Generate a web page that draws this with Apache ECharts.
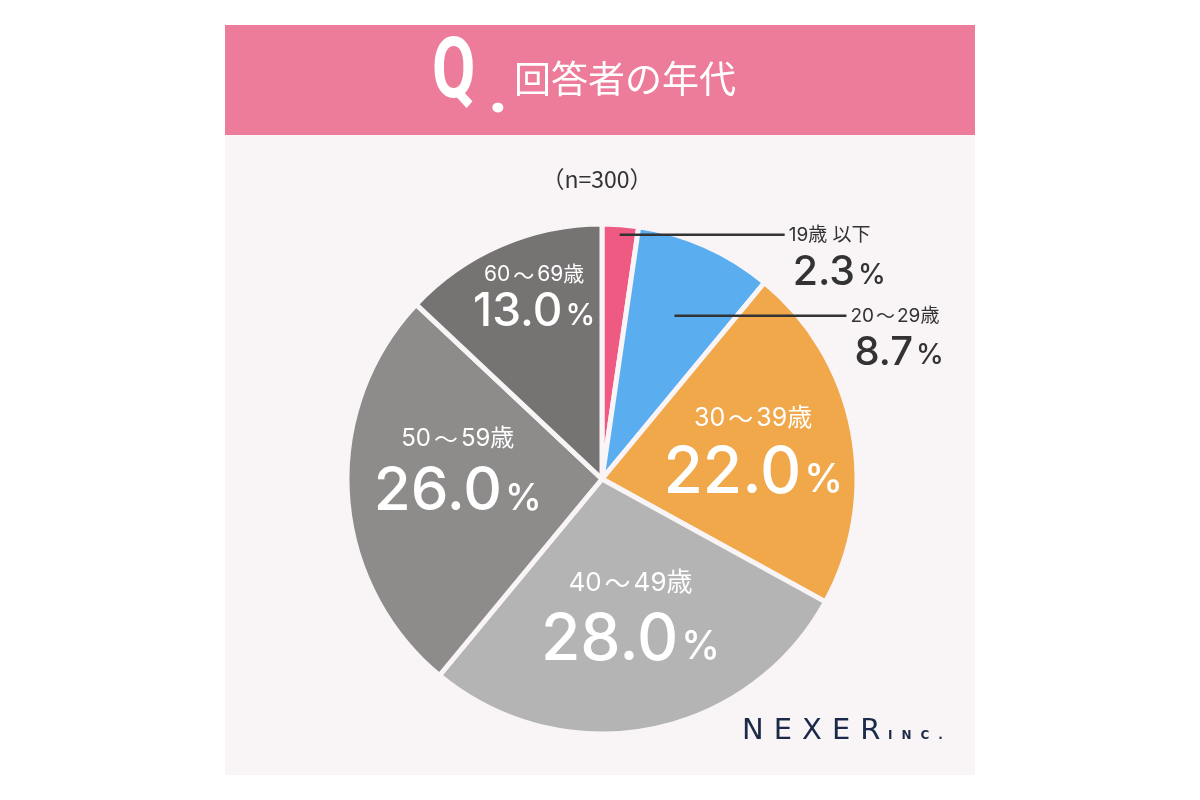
<!DOCTYPE html>
<html><head><meta charset="utf-8">
<script src="https://cdn.jsdelivr.net/npm/echarts@6/dist/echarts.min.js"></script>
<style>html,body{margin:0;padding:0;background:#fff}#c{width:1200px;height:800px}</style>
</head><body><div id="c"></div>
<script>
// ---- data ----
const categories = ['19歳 以下', '20〜29歳', '30〜39歳', '40〜49歳', '50〜59歳', '60〜69歳'];
const values = [2.3, 8.7, 22.0, 28.0, 26.0, 13.0];
const sampleNote = '（n=300）';
const titleText = '回答者の年代';

// ---- style ----
const colors = ['#ee5a82', '#5aaeef', '#f0a84b', '#b5b4b4', '#8e8b8b', '#767373'];
const CX = 602, CY = 479, R = 255;
const NUMFONT = 'Inter, "Noto Sans CJK JP", sans-serif';
const JPFONT = '"Noto Sans CJK JP", sans-serif';
// per slice label styling
const labelStyles = [
  {outside: true, n: 19, v: 41, p: 28, extra: 7, lineR: 0.96, lineLen: 165, color: '#333'},
  {outside: true, n: 19, v: 40, p: 28, extra: 7, lineR: 0.70, lineLen: 172, color: '#333'},
  {n: 25, v: 64, p: 39, extra: 11, dx: 23, dy: 0, color: '#fff'},
  {n: 26, v: 64, p: 39, extra: 13, dx: 4, dy: 13, color: '#fff'},
  {n: 24, v: 60, p: 37, extra: 11, dx: -14, dy: -14, color: '#fff'},
  {n: 21, v: 46, p: 30, extra: 3, dx: -16, dy: -61, color: '#fff'}
];

const total = values.reduce((a, b) => a + b, 0);
const midAngles = [];
{ let acc = 0; values.forEach(v => { midAngles.push((acc + v / 2) / total * Math.PI * 2); acc += v; }); }

function labelFor(s, show) {
  const vLH = Math.round(s.v * 0.95 + s.extra);
  return {
    show: show,
    position: s.outside ? 'outside' : 'inside',
    color: s.color,
    align: s.outside ? 'left' : 'center',
    rich: {
      n: {fontSize: s.n, fontFamily: NUMFONT, color: s.color, lineHeight: s.n + 6},
      t: {fontSize: s.n, fontFamily: JPFONT, color: s.color, lineHeight: s.n + 6, padding: [0, Math.round(s.n * 0.12)]},
      v: {fontSize: s.v, fontFamily: NUMFONT, fontWeight: 500, color: s.color, lineHeight: vLH, verticalAlign: 'bottom',
          padding: [0, 0, 0, s.outside ? 4 : 0]},
      p: {fontSize: s.p, fontFamily: NUMFONT, fontWeight: 500, color: s.color, lineHeight: vLH, verticalAlign: 'bottom',
          padding: [0, 0, Math.round(s.v * 0.09), 3]}
    }
  };
}

// base pie: coloured slices + inside labels
const baseData = categories.map((name, i) => ({
  name, value: values[i],
  itemStyle: {color: colors[i]},
  label: labelFor(labelStyles[i], !labelStyles[i].outside),
  labelLine: {show: false}
}));
// overlay pie (transparent): outside labels with leader lines drawn above the slices
const overlayData = categories.map((name, i) => ({
  name, value: values[i],
  itemStyle: {color: 'rgba(0,0,0,0)', borderWidth: 0},
  label: labelFor(labelStyles[i], !!labelStyles[i].outside),
  labelLine: {show: !!labelStyles[i].outside}
}));

const formatter = p => '{n|' + p.name.split('〜').join('}{t|〜}{n|') + '}\n{v|' + p.value.toFixed(1) + '}{p|%}';

function layoutFn(params) {
  const i = params.dataIndex;
  const s = labelStyles[i];
  if (s.outside) {
    const a = midAngles[i];
    const sx = CX + R * s.lineR * Math.sin(a);
    const ly = CY - R * s.lineR * Math.cos(a);
    const ex = sx + s.lineLen;
    return {
      x: ex + 4, y: ly - (s.n + 6) / 2, align: 'left', verticalAlign: 'top',
      labelLinePoints: [[sx, ly], [ex, ly], [ex, ly]]
    };
  }
  return {dx: s.dx, dy: s.dy};
}

const chart = echarts.init(document.getElementById('c'), null, {renderer: 'canvas'});
chart.setOption({
  backgroundColor: '#ffffff',
  animation: false,
  graphic: [
    {type: 'rect', z: -10, shape: {x: 225, y: 25, width: 750, height: 750}, style: {fill: '#f9f4f6'}},
    {type: 'rect', z: -9, shape: {x: 225, y: 25, width: 750, height: 110}, style: {fill: '#ec7c99'}},
    {type: 'text', z: 5, x: 432, y: 76, scaleX: 0.74,
      style: {text: 'Q', fill: '#fff', font: '700 85px Roboto, sans-serif', verticalAlign: 'middle'}},
    {type: 'text', z: 5, x: 489, y: 97,
      style: {text: '.', fill: '#fff', font: '900 60px Roboto, sans-serif', verticalAlign: 'middle'}},
    {type: 'text', z: 5, x: 514, y: 79,
      style: {text: titleText, fill: '#fff', font: '400 37px ' + JPFONT, verticalAlign: 'middle'}},
    {type: 'text', z: 5, x: 597, y: 179,
      style: {text: sampleNote, fill: '#333', font: '400 23px ' + JPFONT, align: 'center', verticalAlign: 'middle'}},
    {type: 'text', z: 5, x: 742, y: 746,
      style: {text: '{a|N}{a|E}{a|X}{a|E}{a|R}', verticalAlign: 'bottom',
        rich: {a: {fill: '#1b2a48', color: '#1b2a48', fontSize: 29, fontFamily: '"DejaVu Sans", sans-serif', padding: [0, 10, 0, 0]}}}},
    {type: 'text', z: 5, x: 888, y: 742,
      style: {text: '{b|I}{b|N}{b|C}{b|.}', verticalAlign: 'bottom',
        rich: {b: {fill: '#1b2a48', color: '#1b2a48', fontSize: 12, fontWeight: 700, fontFamily: '"DejaVu Sans", sans-serif', padding: [0, 9, 0, 0]}}}}
  ],
  series: [{
    type: 'pie',
    z: 2,
    center: [CX, CY],
    radius: R,
    startAngle: 90,
    clockwise: true,
    avoidLabelOverlap: false,
    itemStyle: {borderColor: '#f9f4f6', borderWidth: 5},
    label: {formatter: formatter},
    labelLayout: layoutFn,
    data: baseData
  }, {
    type: 'pie',
    z: 4,
    silent: true,
    center: [CX, CY],
    radius: R,
    startAngle: 90,
    clockwise: true,
    avoidLabelOverlap: false,
    label: {formatter: formatter},
    labelLine: {showAbove: true, lineStyle: {color: '#333', width: 2.5}, length: 10, length2: 10},
    labelLayout: layoutFn,
    data: overlayData
  }]
});
</script></body></html>
